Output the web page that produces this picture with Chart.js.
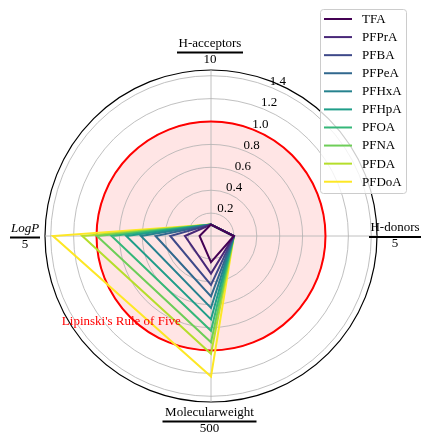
<!DOCTYPE html>
<html>
<head>
<meta charset="utf-8">
<script src="https://cdn.jsdelivr.net/npm/chart.js@4.4.0/dist/chart.umd.min.js"></script>
<style>
  html, body { margin: 0; padding: 0; background: #fff; }
</style>
</head>
<body>
<canvas id="radar" width="422" height="434"></canvas>
<script>
// axes of the radar, each value divided by the number under its name
const axes = ['H-acceptors', 'H-donors', 'Molecularweight', 'LogP']
const axisDivisors = [10, 5, 500, 5]

const compounds = ['TFA', 'PFPrA', 'PFBA', 'PFPeA', 'PFHxA', 'PFHpA', 'PFOA', 'PFNA', 'PFDA', 'PFDoA']
const hAcceptors = [1, 1, 1, 1, 1, 1, 1, 1, 1, 1]
const hDonors = [1, 1, 1, 1, 1, 1, 1, 1, 1, 1]
const molWeight = [114, 164, 214, 264, 314, 364, 414, 464, 514, 614]
const logP = [0.5, 1.14, 1.78, 2.42, 3.06, 3.7, 4.34, 4.98, 5.62, 6.9]

const colors = ['#440154', '#482878', '#3e4989', '#31688e', '#26828e',
                '#1f9e89', '#35b779', '#6ece58', '#b5de2b', '#fde725']

const gridTicks = [0.2, 0.4, 0.6, 0.8, 1.0, 1.2, 1.4]
const rMax = 1.45
const ruleOfFive = 1.0

const SERIF = '"Liberation Serif", "Times New Roman", serif'

function toPos(scale, value, deg) {
  const r = scale.getDistanceFromCenterForValue(value)
  const a = deg * Math.PI / 180
  return { x: scale.xCenter + r * Math.sin(a), y: scale.yCenter - r * Math.cos(a) }
}

const rulePlugin = {
  id: 'rule',
  beforeDraw(chart) {
    const s = chart.scales.r, ctx = chart.ctx
    const r = s.getDistanceFromCenterForValue(ruleOfFive)
    ctx.save()
    ctx.fillStyle = 'rgba(255,0,0,0.1)'
    ctx.beginPath()
    ctx.arc(s.xCenter, s.yCenter, r, 0, Math.PI * 2)
    ctx.fill()
    ctx.restore()
  },
  beforeDatasetsDraw(chart) {
    const s = chart.scales.r, ctx = chart.ctx
    const r = s.getDistanceFromCenterForValue(ruleOfFive)
    ctx.save()
    ctx.strokeStyle = '#ff0000'
    ctx.lineWidth = 2
    ctx.beginPath()
    ctx.arc(s.xCenter, s.yCenter, r, 0, Math.PI * 2)
    ctx.stroke()
    ctx.restore()
  },
  afterDraw(chart) {
    const s = chart.scales.r, ctx = chart.ctx
    ctx.save()
    ctx.font = '13px ' + SERIF
    ctx.textAlign = 'center'
    ctx.textBaseline = 'middle'

    // radial tick labels at 22.5 degrees
    ctx.fillStyle = '#000'
    gridTicks.forEach(v => {
      const p = toPos(s, v, 22.5)
      ctx.fillText(v.toFixed(1), p.x + 5.5, p.y - 6)
    })

    // rule of five text
    const t = toPos(s, 1.08, 226.5)
    ctx.fillStyle = '#ff0000'
    ctx.fillText("Lipinski's Rule of Five", t.x, t.y)

    // axis labels as fractions
    const spots = [
      { x: 210, y: 52.5, w: 66 },
      { x: 395, y: 237, w: 52 },
      { x: 209.5, y: 421.5, w: 94 },
      { x: 25, y: 237.5, w: 30 },
    ]
    ctx.fillStyle = '#000'
    axes.forEach((name, i) => {
      const sp = spots[i]
      ctx.font = (name === 'LogP' ? 'italic ' : '') + '13px ' + SERIF
      ctx.fillText(name, sp.x, sp.y - 9)
      ctx.font = '13px ' + SERIF
      ctx.fillText(String(axisDivisors[i]), sp.x, sp.y + 7)
      ctx.fillRect(sp.x - sp.w / 2, sp.y - 1, sp.w, 2)
    })

    // legend
    const lx = 320.5, ly = 9.5, lw = 86, lh = 184
    ctx.fillStyle = 'rgba(255,255,255,0.8)'
    ctx.strokeStyle = '#cccccc'
    ctx.lineWidth = 1
    ctx.beginPath()
    ctx.roundRect(lx, ly, lw, lh, 3)
    ctx.fill()
    ctx.stroke()
    ctx.textAlign = 'left'
    ctx.font = '13px ' + SERIF
    compounds.forEach((name, i) => {
      const y = 19 + i * 18.08
      ctx.strokeStyle = colors[i]
      ctx.lineWidth = 2
      ctx.beginPath()
      ctx.moveTo(324, y)
      ctx.lineTo(352, y)
      ctx.stroke()
      ctx.fillStyle = '#000'
      ctx.fillText(name, 362, y + 0.5)
    })
    ctx.restore()
  }
}

const datasets = compounds.map((name, i) => ({
  label: name,
  data: [hAcceptors[i] / axisDivisors[0], hDonors[i] / axisDivisors[1],
         molWeight[i] / axisDivisors[2], logP[i] / axisDivisors[3]],
  borderColor: colors[i],
  borderWidth: 2,
  fill: false,
  pointRadius: 0,
  tension: 0,
}))

new Chart(document.getElementById('radar'), {
  type: 'radar',
  data: { labels: axes, datasets: datasets },
  plugins: [rulePlugin],
  options: {
    responsive: false,
    animation: false,
    devicePixelRatio: 1,
    layout: { padding: { left: 45, right: 44, top: 70, bottom: 31 } },
    plugins: { legend: { display: false }, tooltip: { enabled: false } },
    elements: { line: { borderJoinStyle: 'miter' } },
    scales: {
      r: {
        min: 0,
        max: rMax,
        afterBuildTicks: sc => {
          sc.ticks = [0].concat(gridTicks, [rMax]).map(v => ({ value: v }))
        },
        ticks: { display: false },
        pointLabels: { display: false },
        grid: {
          circular: true,
          color: c => c.tick && c.tick.value >= rMax - 1e-9 ? '#000' : '#b0b0b0',
          lineWidth: c => c.tick && c.tick.value >= rMax - 1e-9 ? 1.2 : 0.8,
        },
        angleLines: { color: '#b0b0b0', lineWidth: 0.8 },
      },
    },
  },
})
</script>
</body>
</html>
